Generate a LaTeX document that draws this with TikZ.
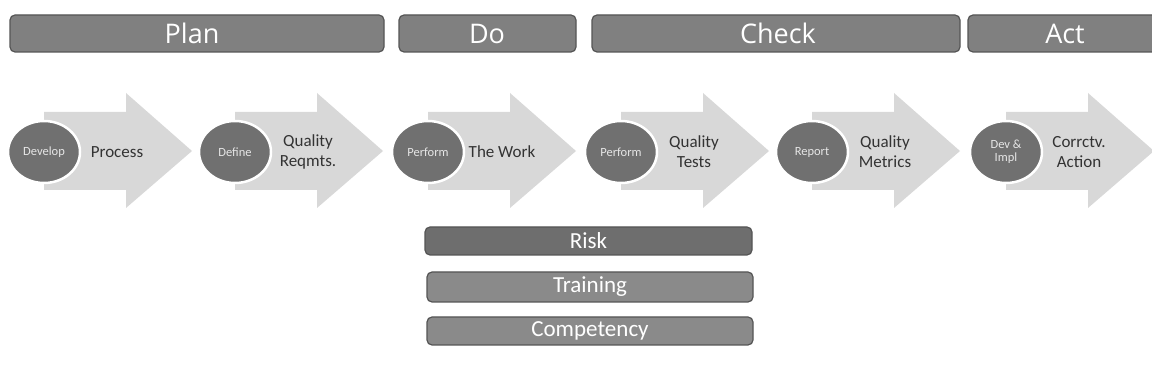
\documentclass[tikz,border=0pt]{standalone}
\usepackage{fontspec}
\usetikzlibrary{shapes.geometric}
\setmainfont{Carlito}
\newfontfamily\headfont{Open Sans}
\definecolor{barfill}{HTML}{808080}
\definecolor{barline}{HTML}{555555}
\definecolor{arrowfill}{HTML}{D8D8D8}
\definecolor{circfill}{HTML}{707070}
\definecolor{riskfill}{HTML}{6E6E6E}
\definecolor{subfill}{HTML}{8A8A8A}
\definecolor{txtdark}{HTML}{333333}
\definecolor{circtext}{HTML}{E6E6E6}
\begin{document}
\begin{tikzpicture}[x=1pt,y=-1pt,
  phasebar/.style={draw=barline,line width=1.2pt,fill=barfill,rounded corners=5pt},
  phasetext/.style={text=white,font=\headfont\fontsize{27}{30}\selectfont},
  blockarrow/.style={fill=arrowfill,draw=none},
  stepcirc/.style={ellipse,fill=circfill,draw=white,line width=2.5pt,minimum width=72pt,minimum height=62pt,inner sep=0pt,text=circtext,font=\fontsize{12.5}{13}\selectfont,align=center},
  steptext/.style={text=txtdark,font=\fontsize{17}{20}\selectfont,align=center},
  subbar/.style={draw=barline,line width=1.2pt,rounded corners=5pt},
  subtext/.style={text=white,font=\fontsize{23}{26}\selectfont}]
\useasboundingbox (0,0) rectangle (1152,387);
% top phase bars
\draw[phasebar] (10,15) rectangle (384,52);
\node[phasetext] (plan) at (192,33.5) {Plan};
\draw[phasebar] (399,15) rectangle (576,52);
\node[phasetext] (do) at (487,33.5) {Do};
\draw[phasebar] (592,15) rectangle (960,52);
\node[phasetext] (check) at (778,33.5) {Check};
\draw[phasebar] (968,15) rectangle (1160,52);
\node[phasetext] (act) at (1065,33.5) {Act};
% block arrows
\foreach \c in {44,235,428,621,812,1006}{
  \fill[blockarrow] (\c,112) -- (\c+82,112) -- (\c+82,93) -- (\c+148,151)
     -- (\c+82,208) -- (\c+82,190) -- (\c,190) -- cycle;
}
% circles
\node[stepcirc] (c1) at (44,152) {Develop};
\node[stepcirc] (c2) at (235,152) {Define};
\node[stepcirc] (c3) at (428,152) {Perform};
\node[stepcirc] (c4) at (621,152) {Perform};
\node[stepcirc] (c5) at (812,152) {Report};
\node[stepcirc] (c6) at (1006,152) {Dev \&\\Impl};
% arrow labels
\node[steptext] (t1) at (117,152) {Process};
\node[steptext] (t2) at (308,152) {Quality\\Reqmts.};
\node[steptext] (t3) at (502,152) {The Work};
\node[steptext] (t4) at (694,152) {Quality\\Tests};
\node[steptext] (t5) at (885,152) {Quality\\Metrics};
\node[steptext] (t6) at (1079,152) {Corrctv.\\Action};
% lower bars
\draw[subbar,fill=riskfill] (425,227) rectangle (752,255);
\node[subtext] (risk) at (588.5,241) {Risk};
\draw[subbar,fill=subfill] (427,272) rectangle (753,302);
\node[subtext] (training) at (590,287) {Training};
\draw[subbar,fill=subfill] (427,317) rectangle (753,345);
\node[subtext] (comp) at (590,331) {Competency};
\end{tikzpicture}
\end{document}
